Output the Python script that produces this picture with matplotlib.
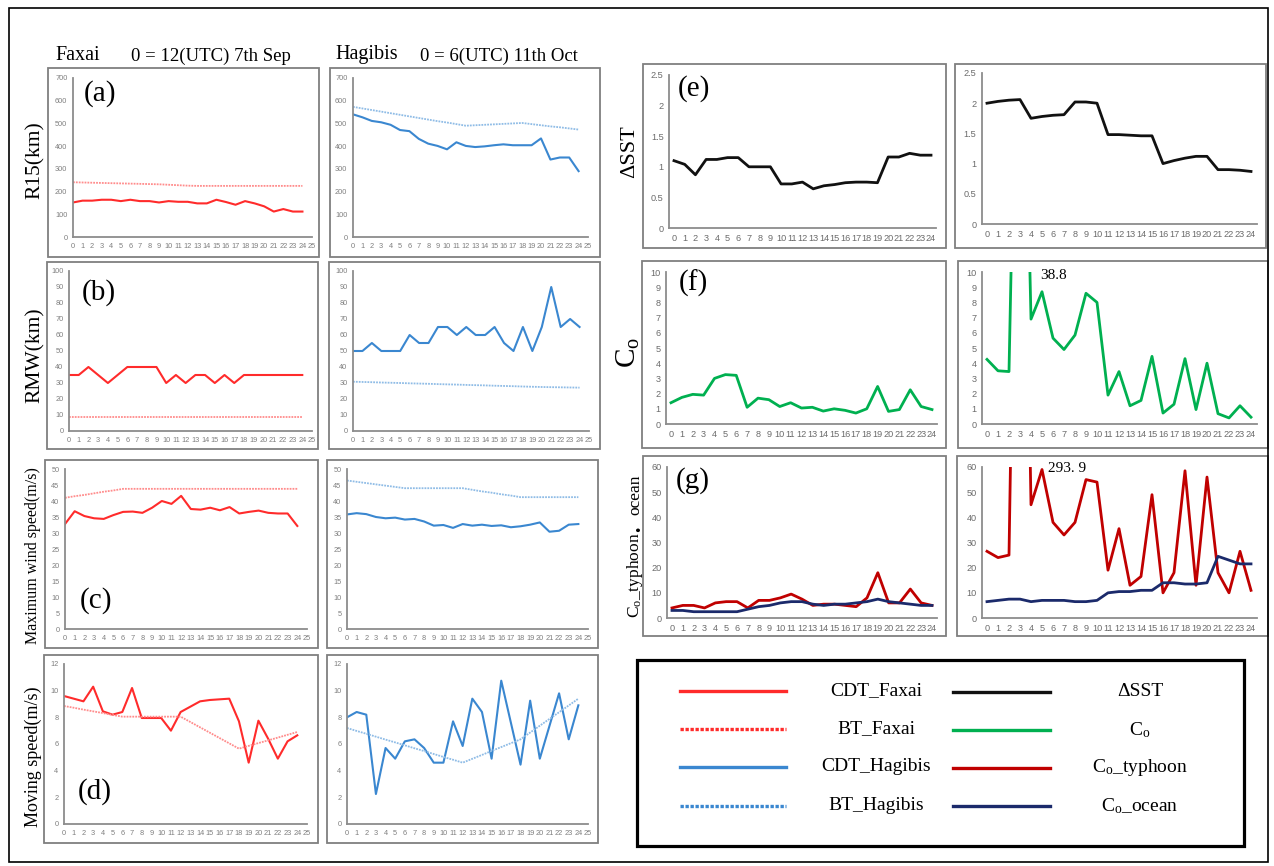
import matplotlib
matplotlib.use('Agg')
import matplotlib.pyplot as plt
from matplotlib.patches import Rectangle
from matplotlib.lines import Line2D

# ---------------- data ----------------
hours = list(range(25))

faxai_r15_cdt = [152, 160, 160, 164, 164, 158, 164, 158, 158, 152, 158, 155, 155, 148, 148, 164, 154, 142, 158, 148, 135, 112, 123, 112, 112]
faxai_r15_bt = [241, 240, 239, 238, 237, 236, 235, 234, 233, 232, 230, 228, 226, 225, 225, 225, 225, 225, 225, 225, 225, 225, 225, 225, 225]
hagibis_r15_cdt = [540, 527, 511, 505, 494, 471, 466, 432, 411, 401, 386, 417, 401, 396, 399, 404, 408, 404, 404, 404, 434, 341, 350, 350, 290]
hagibis_r15_bt = [573, 566, 559, 552, 545, 538, 531, 524, 517, 510, 504, 497, 490, 492, 494, 496, 498, 500, 502, 497, 492, 487, 483, 478, 473]

faxai_rmw_cdt = [35, 35, 40, 35, 30, 35, 40, 40, 40, 40, 30, 35, 30, 35, 35, 30, 35, 30, 35, 35, 35, 35, 35, 35, 35]
faxai_rmw_bt = [9, 9, 9, 9, 9, 9, 9, 9, 9, 9, 9, 9, 9, 9, 9, 9, 9, 9, 9, 9, 9, 9, 9, 9, 9]
hagibis_rmw_cdt = [50, 50, 55, 50, 50, 50, 60, 55, 55, 65, 65, 60, 65, 60, 60, 65, 55, 50, 65, 50, 65, 90, 65, 70, 65]
hagibis_rmw_bt = [30.8, 30.65, 30.5, 30.3, 30.15, 30.0, 29.8, 29.65, 29.5, 29.3, 29.15, 29.0, 28.8, 28.65, 28.5, 28.3, 28.15, 28.0, 27.8, 27.65, 27.5, 27.4, 27.3, 27.2, 27.1]

faxai_wind_cdt = [32.8, 36.8, 35.3, 34.6, 34.4, 35.6, 36.6, 36.7, 36.3, 37.9, 40.0, 39.1, 41.6, 37.5, 37.3, 37.9, 37.1, 38.1, 36.1, 36.6, 37.0, 36.3, 36.1, 36.1, 32.2]
faxai_wind_bt = [41.0, 41.5, 41.9, 42.4, 42.9, 43.3, 43.8, 43.8, 43.8, 43.8, 43.8, 43.8, 43.8, 43.8, 43.8, 43.8, 43.8, 43.8, 43.8, 43.8, 43.8, 43.8, 43.8, 43.8, 43.8]
hagibis_wind_cdt = [35.8, 36.2, 35.9, 35.0, 34.6, 34.8, 34.2, 34.4, 33.6, 32.3, 32.5, 31.6, 32.8, 32.3, 32.6, 32.2, 32.4, 31.8, 32.1, 32.6, 33.3, 30.4, 30.7, 32.6, 32.8]
hagibis_wind_bt = [46.4, 46.0, 45.6, 45.2, 44.8, 44.4, 44.0, 44.0, 44.0, 44.0, 44.0, 44.0, 44.0, 43.5, 43.0, 42.6, 42.1, 41.7, 41.2, 41.2, 41.2, 41.2, 41.2, 41.2, 41.2]

faxai_move_cdt = [9.6, 9.4, 9.2, 10.3, 8.45, 8.2, 8.4, 10.2, 7.95, 7.95, 7.95, 7.0, 8.4, 8.8, 9.2, 9.3, 9.35, 9.4, 7.7, 4.6, 7.75, 6.4, 4.9, 6.2, 6.65]
faxai_move_bt = [8.85, 8.72, 8.58, 8.45, 8.32, 8.18, 8.05, 8.05, 8.05, 8.05, 8.05, 8.05, 8.05, 7.65, 7.25, 6.85, 6.45, 6.05, 5.65, 5.86, 6.07, 6.27, 6.48, 6.69, 6.9]
hagibis_move_cdt = [8.0, 8.4, 8.2, 2.25, 5.7, 4.9, 6.2, 6.35, 5.7, 4.6, 4.6, 7.7, 5.85, 9.4, 8.4, 4.9, 10.75, 7.6, 4.45, 9.25, 4.9, 7.35, 9.8, 6.35, 8.9]
hagibis_move_bt = [7.2, 6.98, 6.77, 6.55, 6.33, 6.12, 5.9, 5.68, 5.47, 5.25, 5.03, 4.82, 4.6, 4.89, 5.18, 5.48, 5.77, 6.06, 6.35, 6.86, 7.37, 7.88, 8.38, 8.89, 9.4]

faxai_dsst = [1.10, 1.04, 0.87, 1.12, 1.12, 1.15, 1.15, 1.0, 1.0, 1.0, 0.72, 0.72, 0.75, 0.64, 0.69, 0.71, 0.74, 0.75, 0.75, 0.74, 1.16, 1.16, 1.22, 1.19, 1.19]
hagibis_dsst = [2.0, 2.03, 2.05, 2.06, 1.75, 1.78, 1.8, 1.81, 2.02, 2.02, 2.0, 1.48, 1.48, 1.47, 1.46, 1.46, 1.0, 1.05, 1.09, 1.12, 1.12, 0.9, 0.9, 0.89, 0.87]

faxai_co = [1.4, 1.75, 1.95, 1.9, 3.0, 3.25, 3.2, 1.1, 1.7, 1.6, 1.15, 1.4, 1.05, 1.1, 0.85, 1.0, 0.9, 0.72, 1.0, 2.47, 0.83, 0.95, 2.25, 1.15, 0.95]
hagibis_co = [4.25, 3.5, 3.45, 38.8, 6.9, 8.7, 5.65, 4.9, 5.85, 8.6, 8.0, 1.9, 3.45, 1.2, 1.55, 4.45, 0.72, 1.3, 4.3, 0.95, 4.0, 0.68, 0.4, 1.2, 0.45]

faxai_co_typhoon = [4, 5, 5, 4, 6, 6.5, 6.5, 4, 7, 7, 8, 9.5, 7.5, 5, 5.5, 5.5, 5, 4.5, 8, 18, 6, 6, 11.5, 6, 5]
faxai_co_ocean = [3, 3, 2.5, 2.5, 2.5, 2.5, 2.5, 3.5, 4.5, 5, 6, 6.5, 6.5, 5.5, 5, 5.5, 5.5, 6, 6.5, 7.5, 6.5, 6, 5.5, 5, 5]
hagibis_co_typhoon = [26.5, 24, 25, 293.9, 45, 59, 38, 33, 38, 55, 54, 19, 35.5, 13, 16.5, 49, 10, 18, 58.5, 13, 56, 18, 10, 26.5, 11]
hagibis_co_ocean = [6.5, 7, 7.5, 7.5, 6.5, 7, 7, 7, 6.5, 6.5, 7, 10, 10.5, 10.5, 11, 11, 14, 14, 13.5, 13.5, 14, 24.5, 23, 21.5, 21.5]

# ---------------- style ----------------
W, H = 1274, 866
SERIF = 'Liberation Serif'
SANS = 'Liberation Sans'
plt.rcParams['mathtext.fontset'] = 'custom'
plt.rcParams['mathtext.rm'] = SERIF
plt.rcParams['mathtext.it'] = SERIF + ':italic'

C_FAX = '#FF2B2B'
C_FAX_BT = '#FF8C8C'
C_HAG = '#3A87D0'
C_HAG_BT = '#8FBCE6'
C_SST = '#111111'
C_CO = '#00B050'
C_TY = '#C00000'
C_OC = '#1B2A6B'
AXC = '#8C8C8C'

fig = plt.figure(figsize=(W / 100, H / 100), dpi=100)


def fx(x):
    return x / W


def fy(y):
    return 1 - y / H


def box(x0, y0, x1, y1, ec='#7F7F7F', lw=1.3):
    fig.add_artist(Rectangle((fx(x0), fy(y1)), (x1 - x0) / W, (y1 - y0) / H,
                             transform=fig.transFigure, fill=False, ec=ec, lw=lw))


def make_ax(xl, xr, yt, yb, xlim, ylim, yticks, ylabels, xticks, tsize, tcolor):
    ax = fig.add_axes([fx(xl), fy(yb), (xr - xl) / W, (yb - yt) / H])
    ax.set_xlim(*xlim)
    ax.set_ylim(*ylim)
    ax.patch.set_alpha(0)
    for s in ['top', 'right']:
        ax.spines[s].set_visible(False)
    for s in ['left', 'bottom']:
        ax.spines[s].set_color(AXC)
        ax.spines[s].set_linewidth(1.3)
    ax.set_yticks(yticks)
    ax.set_yticklabels(ylabels)
    ax.set_xticks(xticks)
    ax.set_xticklabels([str(t) for t in xticks])
    ax.tick_params(length=0, labelsize=tsize, labelcolor=tcolor, pad=4)
    for lab in ax.get_xticklabels() + ax.get_yticklabels():
        lab.set_fontfamily(SANS)
    return ax


# ---------------- left column (a)-(d) ----------------
left_rows = [
    dict(boxL=(48, 68, 319, 257), axL=(73, 312, 78, 237),
         boxR=(330, 68, 600, 257), axR=(353, 588, 78, 237),
         ytop=700, ystep=100,
         L=[(faxai_r15_cdt, C_FAX, '-'), (faxai_r15_bt, C_FAX_BT, ':')],
         R=[(hagibis_r15_cdt, C_HAG, '-'), (hagibis_r15_bt, C_HAG_BT, ':')]),
    dict(boxL=(47, 262, 318, 449), axL=(69, 312, 271, 431),
         boxR=(329, 262, 600, 449), axR=(353, 589, 271, 431),
         ytop=100, ystep=10,
         L=[(faxai_rmw_cdt, C_FAX, '-'), (faxai_rmw_bt, C_FAX_BT, ':')],
         R=[(hagibis_rmw_cdt, C_HAG, '-'), (hagibis_rmw_bt, C_HAG_BT, ':')]),
    dict(boxL=(45, 460, 318, 648), axL=(65, 307, 469, 629),
         boxR=(327, 460, 598, 648), axR=(347, 588, 469, 629),
         ytop=50, ystep=5,
         L=[(faxai_wind_cdt, C_FAX, '-'), (faxai_wind_bt, C_FAX_BT, ':')],
         R=[(hagibis_wind_cdt, C_HAG, '-'), (hagibis_wind_bt, C_HAG_BT, ':')]),
    dict(boxL=(44, 655, 318, 843), axL=(64, 307, 664, 824),
         boxR=(327, 655, 598, 843), axR=(347, 588, 664, 824),
         ytop=12, ystep=2,
         L=[(faxai_move_cdt, C_FAX, '-'), (faxai_move_bt, C_FAX_BT, ':')],
         R=[(hagibis_move_cdt, C_HAG, '-'), (hagibis_move_bt, C_HAG_BT, ':')]),
]

for row in left_rows:
    yt = list(range(0, row['ytop'] + 1, row['ystep']))
    for side in ['L', 'R']:
        box(*row['box' + side])
        xl, xr, ytp, ybt = row['ax' + side]
        ax = make_ax(xl, xr, ytp, ybt, (0, 25), (0, row['ytop']), yt,
                     [str(v) for v in yt], list(range(26)), 5.3, '#7F7F7F')
        for series, col, ls in row[side]:
            if ls == '-':
                ax.plot(hours, series, color=col, lw=1.5, ls='-', clip_on=True)
            else:
                ax.plot(hours, series, color=col, lw=1.3, ls=(0, (1, 0.6)), clip_on=True)

# ---------------- right column (e)-(g) ----------------
right_rows = [
    dict(boxL=(643, 64, 946, 248), axL=(674, 931, 75, 228),
         boxR=(955, 64, 1266, 248), axR=(987, 1251, 73, 224),
         ylim=2.5, yt=[0, 0.5, 1, 1.5, 2, 2.5], ylab=['0', '0.5', '1', '1.5', '2', '2.5'],
         L=[(faxai_dsst, C_SST)], R=[(hagibis_dsst, C_SST)]),
    dict(boxL=(642, 261, 946, 448), axL=(671, 932, 272, 424),
         boxR=(958, 261, 1268, 448), axR=(987, 1251, 272, 424),
         ylim=10, yt=list(range(11)), ylab=[str(v) for v in range(11)],
         L=[(faxai_co, C_CO)], R=[(hagibis_co, C_CO)]),
    dict(boxL=(643, 456, 946, 636), axL=(672, 932, 467, 618),
         boxR=(957, 456, 1268, 636), axR=(987, 1251, 467, 618),
         ylim=60, yt=list(range(0, 61, 10)), ylab=[str(v) for v in range(0, 61, 10)],
         L=[(faxai_co_typhoon, C_TY), (faxai_co_ocean, C_OC)],
         R=[(hagibis_co_typhoon, C_TY), (hagibis_co_ocean, C_OC)]),
]

right_axes = []
for row in right_rows:
    pair = []
    for side in ['L', 'R']:
        box(*row['box' + side])
        x0p, x24p, ytp, ybt = row['ax' + side]
        unit = (x24p - x0p) / 24.0
        xl = x0p - 0.45 * unit
        xr = x24p + 0.5 * unit
        ax = make_ax(xl, xr, ytp, ybt, (-0.45, 24.5), (0, row['ylim']), row['yt'],
                     row['ylab'], list(range(25)), 6.6, '#6B6B6B')
        for series, col in row[side]:
            ax.plot(hours, series, color=col, lw=2.0, clip_on=True)
        pair.append(ax)
    right_axes.append(pair)

# value annotations for clipped peaks
right_axes[1][1].text(4.8, 9.75, '38.8', fontfamily=SERIF, fontsize=11, ha='left',
                      va='center', clip_on=False)
right_axes[2][1].text(5.5, 59.5, '293. 9', fontfamily=SERIF, fontsize=11, ha='left',
                      va='center', clip_on=False)

# ---------------- headers ----------------
fig.text(fx(55), fy(55), 'Faxai', fontfamily=SERIF, fontsize=14.5, ha='left', va='center')
fig.text(fx(131), fy(56), '0 = 12(UTC) 7th Sep', fontfamily=SERIF, fontsize=13.5, ha='left', va='center')
fig.text(fx(335), fy(55), 'Hagibis', fontfamily=SERIF, fontsize=14.5, ha='left', va='center')
fig.text(fx(420), fy(56), '0 = 6(UTC) 11th Oct', fontfamily=SERIF, fontsize=13.5, ha='left', va='center')

# ---------------- panel letters ----------------
for lab, x, y in [('(a)', 100, 94), ('(b)', 99, 293), ('(c)', 96, 601), ('(d)', 95, 792),
                  ('(e)', 694, 89), ('(f)', 693, 283), ('(g)', 693, 481)]:
    fig.text(fx(x), fy(y), lab, fontfamily=SERIF, fontsize=21, ha='center', va='center')

# ---------------- y labels ----------------
fig.text(fx(35), fy(160), 'R15(km)', fontfamily=SERIF, fontsize=15.5, rotation=90, ha='center', va='center')
fig.text(fx(35), fy(355), 'RMW(km)', fontfamily=SERIF, fontsize=15.5, rotation=90, ha='center', va='center')
fig.text(fx(33), fy(556), 'Maximum wind speed(m/s)', fontfamily=SERIF, fontsize=11.5, rotation=90, ha='center', va='center')
fig.text(fx(33), fy(757), 'Moving speed(m/s)', fontfamily=SERIF, fontsize=13, rotation=90, ha='center', va='center')
fig.text(fx(630), fy(152), 'ΔSST', fontfamily=SERIF, fontsize=16, rotation=90, ha='center', va='center')
fig.text(fx(628), fy(352), r'C$_\mathrm{o}$', fontfamily=SERIF, fontsize=21, rotation=90, ha='center', va='center')

# (g) label assembled from segments (shared baseline) so the katakana middle dot gets a font that has it
renderer = fig.canvas.get_renderer()
segs = [(r'C$_\mathrm{o}$_typhoon', [SERIF]), ('・', ['Noto Sans CJK JP']), ('ocean', [SERIF])]
objs = []
for s, fam in segs:
    t = fig.text(0, 0, s, fontfamily=fam, fontsize=12.5, rotation=90, rotation_mode='anchor',
                 ha='left', va='baseline')
    objs.append(t)
lens = [t.get_window_extent(renderer).height for t in objs]
total = sum(lens)
ystart = (H - 546) - total / 2.0
for t, L in zip(objs, lens):
    t.set_position((fx(639), ystart / H))
    ystart += L

# ---------------- legend ----------------
box(637, 660, 1244, 846, ec='black', lw=2.3)
lax = fig.add_axes([fx(637), fy(846), (1244 - 637) / W, (846 - 660) / H])
lax.set_xlim(637, 1244)
lax.set_ylim(846, 660)
lax.axis('off')
leg_left = [('CDT_Faxai', C_FAX, '-', 691), ('BT_Faxai', C_FAX, ':', 729),
            ('CDT_Hagibis', C_HAG, '-', 767), ('BT_Hagibis', C_HAG, ':', 806)]
leg_right = [('ΔSST', C_SST, '-', 692), (r'C$_\mathrm{o}$', C_CO, '-', 730),
             (r'C$_\mathrm{o}$_typhoon', C_TY, '-', 768), (r'C$_\mathrm{o}$_ocean', C_OC, '-', 806)]
for lab, col, ls, y in leg_left:
    style = '-' if ls == '-' else (0, (1, 0.5))
    lax.add_line(Line2D([680, 786], [y, y], color=col, lw=2.4, ls=style))
    lax.text(876, y, lab, fontfamily=SERIF, fontsize=14, ha='center', va='center')
for lab, col, ls, y in leg_right:
    lax.add_line(Line2D([953, 1050], [y, y], color=col, lw=2.4, ls='-'))
    lax.text(1140, y, lab, fontfamily=SERIF, fontsize=14, ha='center', va='center')

# outer frame
box(9, 8, 1268, 862, ec='black', lw=1.2)

fig.savefig('out.png', dpi=100)
